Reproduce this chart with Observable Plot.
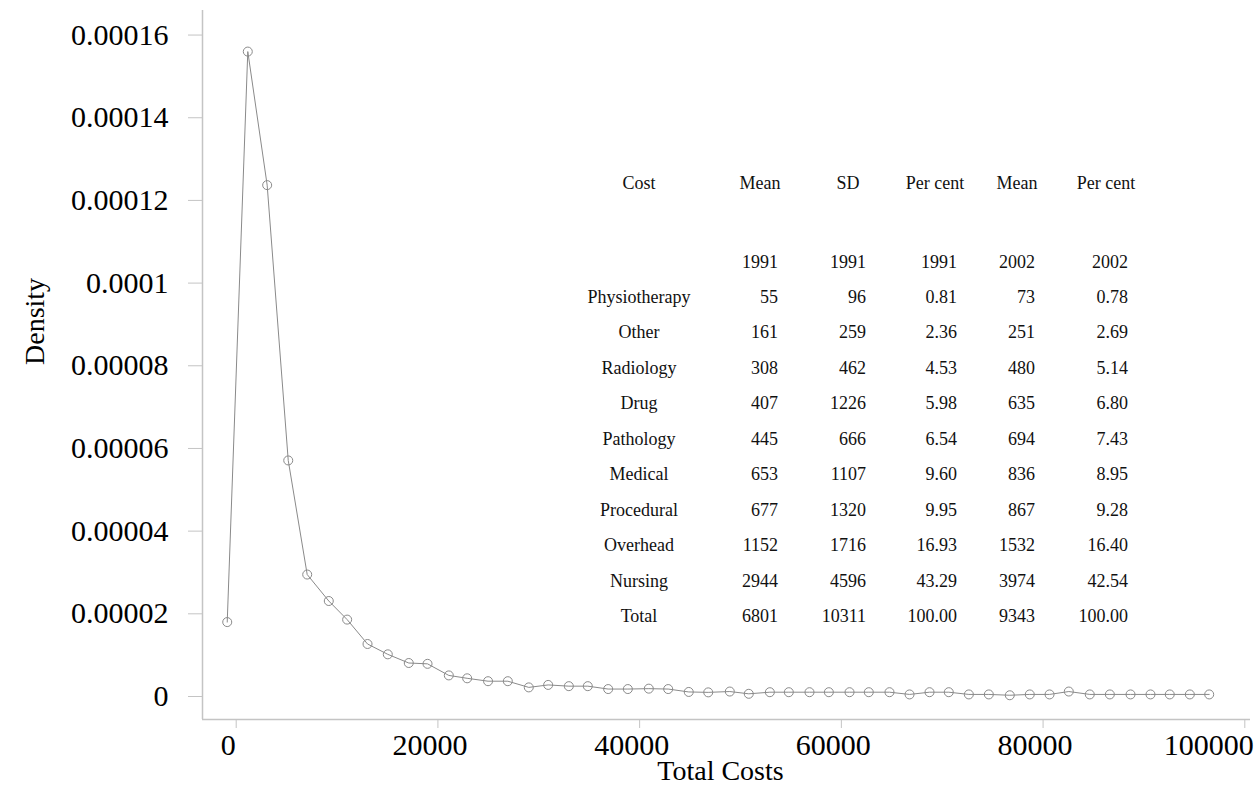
<!DOCTYPE html>
<html><head><meta charset="utf-8">
<script src="https://cdn.jsdelivr.net/npm/d3@7"></script>
<script src="https://cdn.jsdelivr.net/npm/@observablehq/plot@0.6"></script>
<style>
html,body{margin:0;padding:0;background:#fff;}
#wrap{position:relative;width:1259px;height:788px;overflow:hidden;}
#tbl{position:absolute;left:0;top:0;width:1259px;height:788px;pointer-events:none;font-family:"Liberation Serif","Times New Roman",serif;font-size:18px;color:#111;}
#tbl div{position:absolute;white-space:nowrap;line-height:20px;height:20px;}
</style></head><body><div id="wrap"></div>
<script>
// Density curve (kernel-density style points)
const costX = [-890, 1150, 3070, 5160, 7040, 9180, 11000, 13020, 15030, 17110,
  18970, 21080, 22900, 24970, 26930, 29010, 30930, 32980, 34860, 36880,
  38830, 40910, 42830, 44870, 46800, 48940, 50820, 52910, 54790, 56840,
  58760, 60810, 62720, 64770, 66760, 68740, 70650, 72640, 74620, 76700,
  78680, 80640, 82550, 84630, 86620, 88670, 90650, 92560, 94550, 96470];
const density = [1.80e-5, 1.560e-4, 1.237e-4, 5.71e-5, 2.95e-5, 2.31e-5, 1.86e-5, 1.27e-5, 1.02e-5, 8.1e-6,
  7.9e-6, 5.1e-6, 4.4e-6, 3.7e-6, 3.7e-6, 2.2e-6, 2.8e-6, 2.5e-6, 2.5e-6, 1.8e-6,
  1.8e-6, 1.9e-6, 1.8e-6, 1.1e-6, 1.0e-6, 1.2e-6, 0.65e-6, 1.04e-6, 1.04e-6, 1.04e-6,
  1.04e-6, 1.04e-6, 1.04e-6, 1.04e-6, 0.5e-6, 1.04e-6, 1.04e-6, 0.5e-6, 0.5e-6, 0.3e-6,
  0.5e-6, 0.5e-6, 1.2e-6, 0.5e-6, 0.5e-6, 0.5e-6, 0.5e-6, 0.5e-6, 0.5e-6, 0.5e-6];

const xTicks = [0, 20000, 40000, 60000, 80000, 100000];
const yTicks = [0, 0.00002, 0.00004, 0.00006, 0.00008, 0.0001, 0.00012, 0.00014, 0.00016];

// Table
const tableHeaders = ["Cost", "Mean", "SD", "Per cent", "Mean", "Per cent"];
const tableYears = ["", "1991", "1991", "1991", "2002", "2002"];
const costCategories = ["Physiotherapy", "Other", "Radiology", "Drug", "Pathology", "Medical", "Procedural", "Overhead", "Nursing", "Total"];
const mean1991 = [55, 161, 308, 407, 445, 653, 677, 1152, 2944, 6801];
const sd1991 = [96, 259, 462, 1226, 666, 1107, 1320, 1716, 4596, 10311];
const pct1991 = [0.81, 2.36, 4.53, 5.98, 6.54, 9.60, 9.95, 16.93, 43.29, 100.00];
const mean2002 = [73, 251, 480, 635, 694, 836, 867, 1532, 3974, 9343];
const pct2002 = [0.78, 2.69, 5.14, 6.80, 7.43, 8.95, 9.28, 16.40, 42.54, 100.00];

const pts = costX.map((x, i) => ({cost: x, density: density[i]}));
const xDom = [-3341, 100565];
const yDom = [-5.564e-6, 1.6594e-4];
const axisGray = "#c4c4c4";
const curveGray = "#8a8a8a";
const yFmt = d => d === 0 ? "0" : String(+d.toFixed(5));
const xFmt = d => String(d);

const chart = Plot.plot({
  width: 1259, height: 788,
  marginLeft: 202, marginRight: 9, marginTop: 10, marginBottom: 69,
  style: {fontFamily: '"Liberation Serif", "Times New Roman", serif', background: "#fff", color: "#000"},
  x: {domain: xDom},
  y: {domain: yDom},
  marks: [
    Plot.ruleY([yDom[0]], {stroke: axisGray, strokeWidth: 1.5}),
    Plot.ruleX([xDom[0]], {stroke: axisGray, strokeWidth: 1.5}),
    Plot.axisX(xTicks, {tickSize: 9, stroke: axisGray, fill: "none", label: null}),
    Plot.axisX(xTicks.slice(0, -1), {tickSize: 0, tickPadding: 14, stroke: "none", fill: "#000", fontSize: 30, dx: -8, tickFormat: xFmt, label: null}),
    Plot.axisX(xTicks.slice(-1), {tickSize: 0, tickPadding: 14, stroke: "none", fill: "#000", fontSize: 30, dx: -36, tickFormat: xFmt, label: null}),
    Plot.axisY(yTicks, {tickSize: 14, tickPadding: 20, stroke: axisGray, fill: "#000", fontSize: 30, tickFormat: yFmt, label: null}),
    Plot.text(["Density"], {frameAnchor: "left", dx: -167, rotate: -90, fontSize: 28, fill: "#000"}),
    Plot.text(["Total Costs"], {frameAnchor: "bottom", dx: -6, dy: 60, fontSize: 28, fill: "#000"}),
    Plot.line(pts, {x: "cost", y: "density", stroke: curveGray, strokeWidth: 1}),
    Plot.dot(pts, {x: "cost", y: "density", r: 4.5, stroke: curveGray, strokeWidth: 1, fill: "none"})
  ]
});
const wrap = document.getElementById("wrap");
wrap.appendChild(chart);

// Table overlay
const tbl = document.createElement("div");
tbl.id = "tbl";
wrap.appendChild(tbl);
const cols = [
  {center: 639},
  {center: 760, right: 778},
  {center: 848, right: 866},
  {center: 935, right: 957},
  {center: 1017, right: 1035},
  {center: 1106, right: 1128}
];
function cell(text, col, yc, header) {
  const d = document.createElement("div");
  d.textContent = text;
  d.style.top = (yc - 10) + "px";
  if (header || col.right === undefined) {
    d.style.left = (col.center - 100) + "px";
    d.style.width = "200px";
    d.style.textAlign = "center";
  } else {
    d.style.left = (col.right - 200) + "px";
    d.style.width = "200px";
    d.style.textAlign = "right";
  }
  tbl.appendChild(d);
}
tableHeaders.forEach((h, j) => cell(h, cols[j], 183, true));
tableYears.forEach((h, j) => { if (h) cell(h, cols[j], 262, false); });
const rowTop = 297, rowStep = 35.44;
costCategories.forEach((c, i) => {
  const yc = rowTop + i * rowStep;
  cell(c, cols[0], yc, true);
  cell(String(mean1991[i]), cols[1], yc);
  cell(String(sd1991[i]), cols[2], yc);
  cell(pct1991[i].toFixed(2), cols[3], yc);
  cell(String(mean2002[i]), cols[4], yc);
  cell(pct2002[i].toFixed(2), cols[5], yc);
});
</script>
</body></html>
